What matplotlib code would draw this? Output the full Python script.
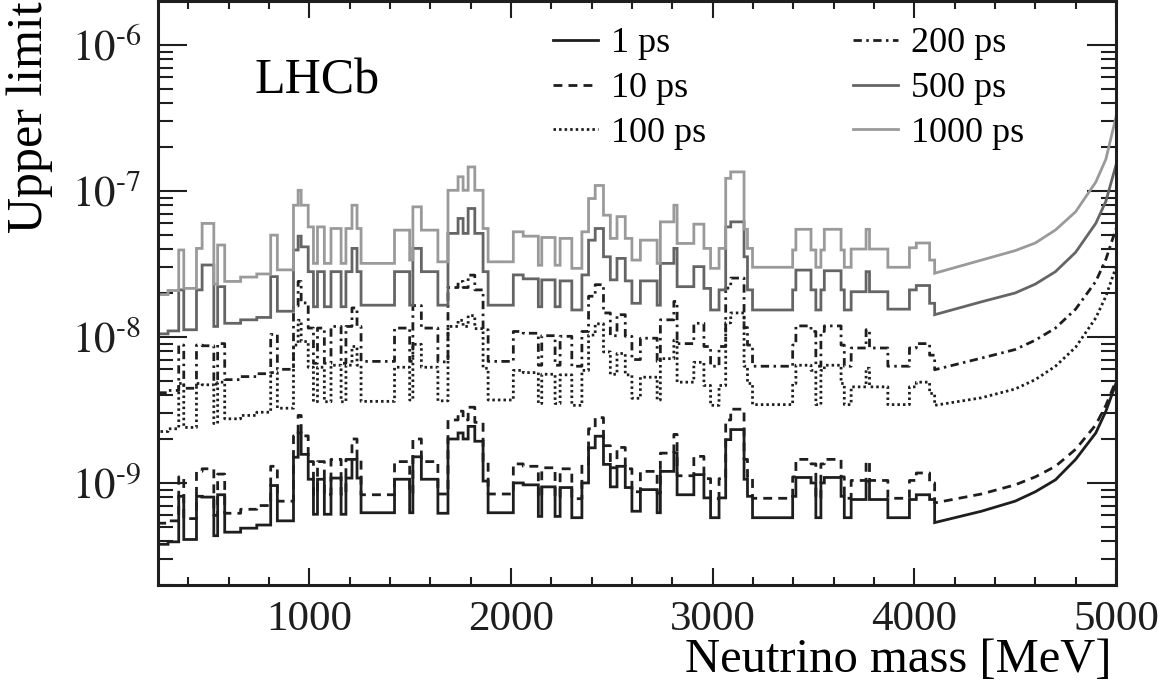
import numpy as np
import matplotlib.pyplot as plt
from matplotlib.ticker import MultipleLocator, FixedLocator, FuncFormatter, NullFormatter

plt.rcParams['font.family'] = ['Liberation Serif', 'DejaVu Serif']
plt.rcParams['mathtext.fontset'] = 'stix'

# bin edges of the stepped part [MeV]
bin_edges = [250, 300, 353, 378, 441, 469, 527, 546, 581, 660, 740, 809, 842, 922,
             945, 960, 995, 1021, 1041, 1075, 1108, 1158, 1182, 1212, 1237, 1257,
             1423, 1498, 1514, 1556, 1638, 1688, 1738, 1763, 1788, 1821, 1862, 1887,
             2012, 2061, 2136, 2153, 2219, 2244, 2302, 2352, 2385, 2418, 2459, 2493,
             2526, 2567, 2600, 2642, 2725, 2741, 2808, 2824, 2907, 2957, 2990, 3032,
             3065, 3090, 3156, 3173, 3198, 3397, 3413, 3488, 3512, 3537, 3554, 3637,
             3653, 3687, 3761, 3778, 3869, 3976, 4010, 4076, 4101]

# upper limits per bin, in units of 1e-9
limit_1ps = [0.38, 0.395, 0.81, 0.41, 0.81, 0.80, 0.435, 0.83, 0.46, 0.49, 0.515, 0.96,
             0.55, 1.5, 2.2, 1.57, 1.06, 0.61, 1.06, 0.61, 1.08, 0.61, 1.08, 1.45, 1.08,
             0.625, 1.06, 0.625, 1.51, 1.06, 0.62, 2.0, 2.2, 2.0, 2.44, 1.93, 1.03, 0.625,
             1.0, 0.97, 0.59, 0.94, 0.59, 0.93, 0.578, 1.0, 1.74, 2.09, 1.34, 0.94, 1.30,
             0.93, 0.64, 0.90, 0.625, 1.2, 1.61, 0.83, 1.14, 0.79, 0.578, 0.79, 1.98, 2.32,
             1.06, 0.81, 0.578, 0.81, 1.09, 1.0, 0.578, 1.0, 1.09, 0.81, 0.578, 0.77, 1.03,
             0.77, 0.578, 0.77, 0.83, 0.77]
limit_10ps = [0.53, 0.55, 1.1, 0.57, 1.2, 1.25, 0.6, 1.15, 0.62, 0.66, 0.7, 1.3,
              0.75, 2.1, 2.9, 2.1, 1.4, 0.83, 1.4, 0.83, 1.45, 0.83, 1.45, 2.0, 1.45,
              0.83, 1.4, 0.85, 2.0, 1.4, 0.84, 2.7, 3.1, 2.7, 3.3, 2.6, 1.4, 0.84,
              1.35, 1.3, 0.8, 1.27, 0.8, 1.25, 0.78, 1.35, 2.35, 2.8, 1.8, 1.27, 1.75,
              1.25, 0.87, 1.2, 0.85, 1.6, 2.15, 1.12, 1.52, 1.07, 0.78, 1.07, 2.7, 3.2,
              1.45, 1.1, 0.785, 1.1, 1.45, 1.35, 0.785, 1.35, 1.45, 1.1, 0.785, 1.04, 1.4,
              1.04, 0.785, 1.04, 1.17, 1.0]
limit_100ps = [2.25, 2.35, 4.8, 2.4, 4.8, 4.7, 2.55, 4.9, 2.75, 2.9, 3.05, 5.7,
               3.25, 8.8, 13, 9.3, 6.2, 3.6, 6.2, 3.6, 6.4, 3.6, 6.4, 8.6, 6.4,
               3.62, 6.2, 3.7, 8.9, 6.2, 3.65, 11.8, 13, 11.8, 14, 11.4, 6.1, 3.7,
               5.9, 5.7, 3.5, 5.55, 3.5, 5.5, 3.4, 5.9, 10.3, 12.3, 7.9, 5.55, 7.7,
               5.5, 3.8, 5.3, 3.7, 7.1, 9.5, 4.9, 6.7, 4.65, 3.4, 4.65, 12.5, 14.6,
               6.3, 4.8, 3.44, 4.8, 6.4, 5.9, 3.44, 5.9, 6.4, 4.8, 3.44, 4.55, 6.1,
               4.55, 3.44, 4.55, 4.9, 4.1]
limit_200ps = [4.15, 4.3, 8.8, 4.45, 8.8, 8.7, 4.75, 9.0, 5.1, 5.35, 5.6, 10.4,
               6.0, 16.3, 24, 17.1, 11.5, 6.6, 11.5, 6.6, 11.8, 6.6, 11.8, 15.8, 11.8,
               6.8, 11.5, 6.8, 16.4, 11.5, 6.75, 21.8, 24, 21.8, 26.5, 21, 11.2, 6.8,
               10.9, 10.6, 6.4, 10.2, 6.4, 10.1, 6.3, 10.9, 19, 22.8, 14.6, 10.2, 14.2,
               10.1, 7.0, 9.8, 6.8, 13.1, 17.5, 9.0, 12.4, 8.6, 6.3, 8.6, 21.6, 25.3,
               11.6, 8.8, 6.3, 8.8, 11.9, 10.9, 6.3, 10.9, 11.9, 8.8, 6.3, 8.4, 11.2,
               8.4, 6.3, 8.4, 9.0, 7.5]
limit_500ps = [10.5, 11.0, 21, 11.2, 21, 31.1, 11.8, 22.1, 12.4, 13.1, 13.6, 25.9,
               15, 39.4, 49, 41.4, 28, 16.1, 28, 16.1, 28, 16.1, 28, 40.4, 28,
               16.5, 28, 16.5, 40.4, 28, 16.5, 51.2, 64.8, 51.2, 75.8, 51.2, 28, 16.5,
               26.6, 25, 16.1, 24.6, 16.1, 24.2, 15.3, 26.6, 46, 55.3, 35.4, 24.6, 34.5,
               24.2, 17, 24.2, 16.5, 31.9, 40.4, 22.1, 30.3, 21.5, 15.3, 21, 56.7, 61.4,
               35.4, 21, 15.3, 21, 28.7, 21, 15.3, 21, 28.4, 21, 15.3, 20.4, 28,
               20.4, 15.5, 21, 22.5, 17]
limit_1000ps = [19.5, 20.8, 39.4, 21.5, 40.4, 59.9, 23, 42.6, 24, 25.7, 27, 49.8,
                28.8, 79.8, 101, 79.8, 56.7, 31.9, 56.7, 31.9, 55.3, 31.9, 55.3, 79.8, 55.3,
                31.9, 53.9, 33.6, 77.8, 53.9, 32.7, 101, 125, 101, 146, 101, 55.3, 32.7,
                52.5, 49, 31, 48, 31, 47.3, 29.5, 52.5, 88.7, 109, 68.2, 47.3, 66.7,
                47.3, 33.6, 46, 31.9, 61.4, 79.8, 43.7, 59.2, 40.4, 29.5, 40.4, 122, 135,
                54.6, 40.4, 30, 39.4, 54.6, 39.4, 30, 39.4, 54.6, 39.4, 30, 40, 54.6,
                40, 30, 40.8, 44, 33.6]

# smooth high-mass part [MeV] and limits (1e-9)
tail_mass = [4101, 4333, 4500, 4600, 4700, 4800, 4900, 4950, 5000]
tail_1ps = [0.535, 0.64, 0.75, 0.87, 1.05, 1.45, 2.2, 3.1, 4.8]
tail_10ps = [0.73, 0.84, 0.97, 1.1, 1.3, 1.7, 2.5, 3.4, 5.0]
tail_100ps = [3.4, 3.83, 4.4, 5.1, 6.3, 8.5, 13.5, 19, 30]
tail_200ps = [5.96, 7.16, 8.2, 9.5, 11.5, 15.5, 24, 34, 55]
tail_500ps = [14.2, 17.4, 20, 23, 28, 38, 60, 85, 150]
tail_1000ps = [27.3, 33.6, 39, 44, 54, 72, 115, 165, 320]

labels = ['1 ps', '10 ps', '100 ps', '200 ps', '500 ps', '1000 ps']
steps = [limit_1ps, limit_10ps, limit_100ps, limit_200ps, limit_500ps, limit_1000ps]
tails = [tail_1ps, tail_10ps, tail_100ps, tail_200ps, tail_500ps, tail_1000ps]
colors = ['#1e1e1e', '#1e1e1e', '#1e1e1e', '#1e1e1e', '#656565', '#9a9a9a']
styles = ['-', (0, (3.2, 2.2)), (0, (0.9, 1.1)), (0, (3.0, 1.6, 0.9, 1.6)), '-', '-']


def outline(edges, vals, tail_m, tail_v, floor=1e-10):
    edges = np.asarray(edges, float)
    x = np.concatenate([[edges[0]], np.repeat(edges, 2)[1:-1], tail_m])
    y = np.concatenate([[floor], np.repeat(np.asarray(vals) * 1e-9, 2),
                        np.asarray(tail_v) * 1e-9])
    return x, y


fig = plt.figure(figsize=(11.58, 7.0), dpi=100)
ax = fig.add_axes([0.1364, 0.1643, 0.8273, 0.8343])

for lab, vals, tail, c, ls in zip(labels, steps, tails, colors, styles):
    x, y = outline(bin_edges, vals, tail_mass, tail)
    ax.plot(x, y, color=c, ls=ls, lw=2.0, label=lab, solid_joinstyle='miter')

ax.set_yscale('log')
ax.set_xlim(250, 5000)
ax.set_ylim(2e-10, 2e-6)

ax.xaxis.set_major_locator(MultipleLocator(1000))
ax.xaxis.set_minor_locator(MultipleLocator(200))
ax.yaxis.set_major_locator(FixedLocator([1e-9, 1e-8, 1e-7, 1e-6]))
ax.yaxis.set_minor_locator(FixedLocator(
    [m * 10.0 ** e for e in range(-10, -5) for m in range(2, 10)
     if 2e-10 <= m * 10.0 ** e <= 2e-6]))
ax.yaxis.set_major_formatter(
    FuncFormatter(lambda v, p: f"$10^{{\\text{{-}}{-int(round(np.log10(v)))}}}$"))
ax.yaxis.set_minor_formatter(NullFormatter())

ax.tick_params(which='both', direction='in', top=True, right=True,
               width=1.5, labelsize=31, colors='#1e1e1e')
ax.tick_params(axis='x', which='major', length=12, pad=11)
ax.tick_params(axis='x', which='minor', length=6)
ax.tick_params(axis='y', which='major', length=21, pad=12)
ax.tick_params(axis='y', which='minor', length=11)
for sp in ax.spines.values():
    sp.set_linewidth(2.2)
    sp.set_color('#1e1e1e')

ax.set_xlabel('Neutrino mass [MeV]', fontsize=35, ha='right', va='top')
ax.xaxis.set_label_coords(0.995, -0.09)
ax.set_ylabel('Upper limit', fontsize=36, loc='top')
ax.yaxis.set_label_coords(-0.11, 1.0)

ax.text(0.101, 0.842, 'LHCb', fontsize=36, transform=ax.transAxes,
        va='baseline', ha='left')

ax.legend(loc='upper left', bbox_to_anchor=(0.397, 0.98), ncol=2, frameon=False,
          fontsize=26, handlelength=1.25, handletextpad=0.35, columnspacing=4.08,
          labelspacing=0.32, borderaxespad=0)

fig.savefig('out.png', dpi=100)
